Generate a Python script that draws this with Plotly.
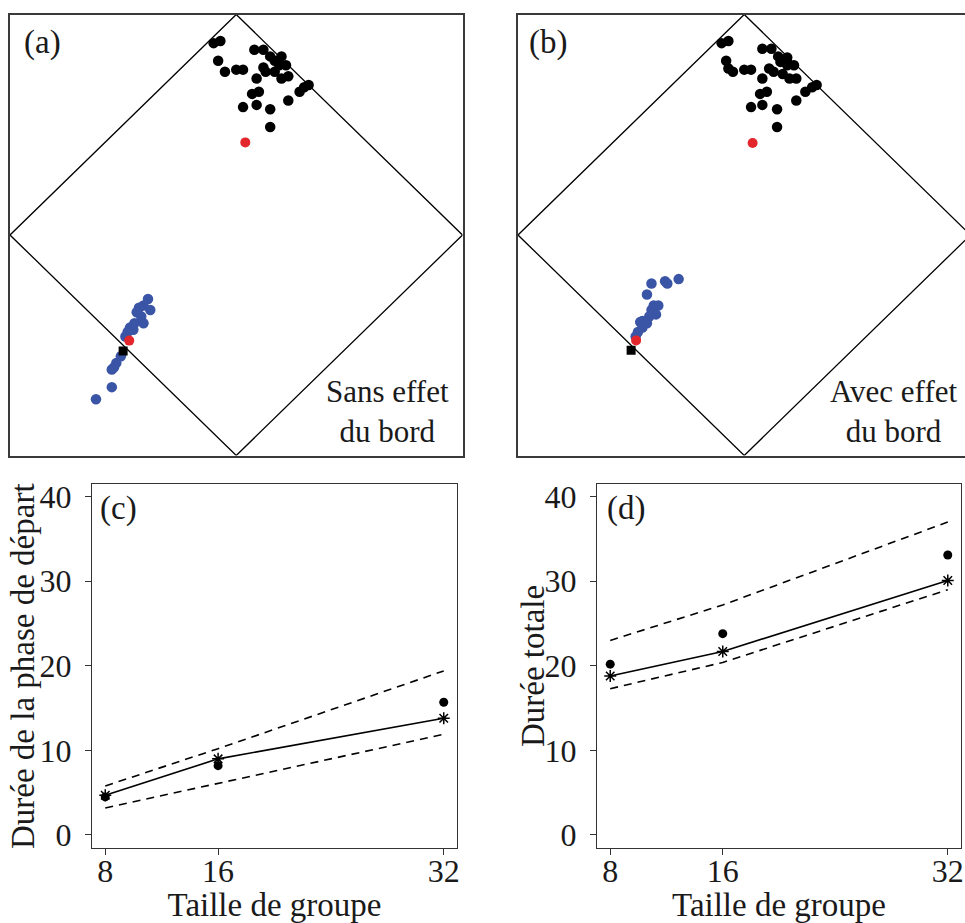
import plotly.graph_objects as go

# ---------------- data ----------------
# Diamond frame (simplex outline) used in panels (a) and (b)
diamond_x = [0, 1, 0, -1, 0]
diamond_y = [1, 0, -1, 0, 1]

# Panel (a): "Sans effet du bord"
a_black_x = [-0.10, -0.07, -0.08, -0.05, 0.00, 0.03, 0.08, 0.12, 0.09, 0.12, 0.13, 0.15, 0.17, 0.20,
             0.19, 0.22, 0.17, 0.20, 0.23, 0.07, 0.10, 0.03, 0.09, 0.15, 0.15, 0.23, 0.28, 0.30, 0.32, 0.18]
a_black_y = [0.87, 0.88, 0.79, 0.74, 0.75, 0.75, 0.84, 0.84, 0.71, 0.76, 0.74, 0.81, 0.79, 0.81,
             0.77, 0.77, 0.74, 0.71, 0.72, 0.64, 0.65, 0.58, 0.59, 0.57, 0.49, 0.61, 0.65, 0.67, 0.68, 0.79]
a_red_top = (0.04, 0.42)
a_blue_x = [-0.39, -0.41, -0.43, -0.38, -0.44, -0.42, -0.41, -0.45, -0.47, -0.455, -0.48, -0.49,
            -0.51, -0.53, -0.54, -0.55, -0.55, -0.62]
a_blue_y = [-0.29, -0.32, -0.33, -0.34, -0.35, -0.37, -0.40, -0.40, -0.42, -0.43, -0.44, -0.46,
            -0.55, -0.58, -0.60, -0.61, -0.69, -0.745]
a_red_bottom = (-0.473, -0.479)
a_square = (-0.50, -0.526)

# Panel (b): "Avec effet du bord"
b_black_x = [-0.10, -0.07, -0.08, -0.07, -0.05, 0.00, 0.03, 0.08, 0.12, 0.08, 0.11, 0.13, 0.15, 0.16,
             0.19, 0.19, 0.22, 0.17, 0.20, 0.23, 0.07, 0.10, 0.03, 0.08, 0.145, 0.145, 0.23, 0.27, 0.30, 0.32]
b_black_y = [0.87, 0.88, 0.79, 0.755, 0.74, 0.75, 0.75, 0.845, 0.845, 0.71, 0.755, 0.74, 0.81, 0.785,
             0.805, 0.77, 0.77, 0.73, 0.71, 0.71, 0.64, 0.65, 0.58, 0.59, 0.57, 0.49, 0.61, 0.65, 0.67, 0.68]
b_red_top = (0.037, 0.417)
b_blue_x = [-0.41, -0.35, -0.34, -0.29, -0.43, -0.40, -0.38, -0.41, -0.39, -0.42, -0.45, -0.46,
            -0.43, -0.45, -0.47, -0.48]
b_blue_y = [-0.22, -0.21, -0.22, -0.20, -0.27, -0.32, -0.32, -0.34, -0.36, -0.37, -0.39, -0.395,
            -0.40, -0.42, -0.44, -0.46]
b_red_bottom = (-0.478, -0.478)
b_square = (-0.50, -0.523)

# Panels (c) and (d)
group_sizes = [8, 16, 32]
x_tick_labels = ["8", "16", "32"]
y_tick_vals = [0, 10, 20, 30, 40]

c_observed = [4.5, 8.2, 15.7]
c_model = [4.7, 9.0, 13.8]
c_upper = [5.8, 10.2, 19.4]
c_lower = [3.2, 6.1, 11.9]

d_observed = [20.2, 23.8, 33.1]
d_model = [18.8, 21.7, 30.1]
d_upper = [23.0, 27.2, 37.0]
d_lower = [17.3, 20.4, 29.0]

# ---------------- style ----------------
FONT = "Liberation Serif"
BLUE = "#3a55a6"
RED = "#e3262b"
FRAME = "#333333"
TXT = "#1a1a1a"
W, H = 965, 923

fig = go.Figure()


def top_panel(xa, ya, bx, by, rtop, blx, bly, rbot, sq):
    fig.add_trace(go.Scatter(x=diamond_x, y=diamond_y, mode="lines",
                             line=dict(color="black", width=1.3), xaxis=xa, yaxis=ya,
                             showlegend=False, hoverinfo="skip"))
    fig.add_trace(go.Scatter(x=bx, y=by, mode="markers",
                             marker=dict(color="black", size=10.5), xaxis=xa, yaxis=ya, showlegend=False))
    fig.add_trace(go.Scatter(x=[rtop[0]], y=[rtop[1]], mode="markers",
                             marker=dict(color=RED, size=10), xaxis=xa, yaxis=ya, showlegend=False))
    fig.add_trace(go.Scatter(x=blx, y=bly, mode="markers",
                             marker=dict(color=BLUE, size=10.5), xaxis=xa, yaxis=ya, showlegend=False))
    fig.add_trace(go.Scatter(x=[sq[0]], y=[sq[1]], mode="markers",
                             marker=dict(color="black", size=9, symbol="square"),
                             xaxis=xa, yaxis=ya, showlegend=False))
    fig.add_trace(go.Scatter(x=[rbot[0]], y=[rbot[1]], mode="markers",
                             marker=dict(color=RED, size=10), xaxis=xa, yaxis=ya, showlegend=False))


top_panel("x", "y", a_black_x, a_black_y, a_red_top, a_blue_x, a_blue_y, a_red_bottom, a_square)
top_panel("x2", "y2", b_black_x, b_black_y, b_red_top, b_blue_x, b_blue_y, b_red_bottom, b_square)


def bottom_panel(xa, ya, obs, model, upper, lower):
    for band in (upper, lower):
        fig.add_trace(go.Scatter(x=group_sizes, y=band, mode="lines",
                                 line=dict(color="black", width=1.6, dash="8px,6px"),
                                 xaxis=xa, yaxis=ya, showlegend=False))
    fig.add_trace(go.Scatter(x=group_sizes, y=model, mode="lines+markers",
                             line=dict(color="black", width=1.6),
                             marker=dict(symbol="asterisk-open", size=10, color="black",
                                         line=dict(color="black", width=1.5)),
                             xaxis=xa, yaxis=ya, showlegend=False, cliponaxis=False))
    fig.add_trace(go.Scatter(x=group_sizes, y=obs, mode="markers",
                             marker=dict(color="black", size=9),
                             xaxis=xa, yaxis=ya, showlegend=False, cliponaxis=False))


bottom_panel("x3", "y3", c_observed, c_model, c_upper, c_lower)
bottom_panel("x4", "y4", d_observed, d_model, d_upper, d_lower)

# ---------------- axes ----------------
top_y_dom = [1 - 455.5 / H, 1 - 14.5 / H]
a_x_dom = [10 / W, 462.5 / W]
b_x_dom = [518 / W, 1.0]
b_x_max = -1 + 2 * (W - 518) / 452.5

blank = dict(showticklabels=False, ticks="", showgrid=False, zeroline=False,
             showline=True, linecolor="#3a3a3a", linewidth=1.6, fixedrange=True)

fig.update_layout(
    xaxis=dict(domain=a_x_dom, range=[-1, 1], anchor="y", mirror=True, **blank),
    yaxis=dict(domain=top_y_dom, range=[-1, 1], anchor="x", mirror=True, **blank),
    xaxis2=dict(domain=b_x_dom, range=[-1, b_x_max], anchor="y2", mirror=True, **blank),
    yaxis2=dict(domain=top_y_dom, range=[-1, 1], anchor="x2", mirror=False, **blank),
)

bot_y_dom = [1 - 848 / H, 1 - 484 / H]
c_x_dom = [92 / W, 457 / W]
d_x_dom = [597 / W, 961 / W]
tickfont = dict(family=FONT, size=32, color=TXT)
titlefont = dict(family=FONT, size=33, color=TXT)

common_x = dict(range=[7.06, 32.94], tickvals=group_sizes, ticktext=x_tick_labels,
                ticks="outside", ticklen=6, tickwidth=1.3, tickcolor=FRAME,
                showline=True, mirror=True, linecolor=FRAME, linewidth=1.4,
                showgrid=False, zeroline=False, tickfont=tickfont, automargin=False,
                ticklabelstandoff=-12)
common_y = dict(range=[-1.54, 41.5], tickvals=y_tick_vals,
                ticks="outside", ticklen=6, tickwidth=1.3, tickcolor=FRAME,
                showline=True, mirror=True, linecolor=FRAME, linewidth=1.4,
                showgrid=False, zeroline=False, tickfont=tickfont, automargin=False,
                ticklabelstandoff=7)

fig.update_layout(
    xaxis3=dict(domain=c_x_dom, anchor="y3",
                title=dict(text="Taille de groupe", font=titlefont, standoff=12), **common_x),
    yaxis3=dict(domain=bot_y_dom, anchor="x3", **common_y),
    xaxis4=dict(domain=d_x_dom, anchor="y4",
                title=dict(text="Taille de groupe", font=titlefont, standoff=12), **common_x),
    yaxis4=dict(domain=bot_y_dom, anchor="x4", **common_y),
)

# ---------------- annotations ----------------
ann_font = dict(family=FONT, size=33, color=TXT)
y_mid = 1 - 666 / H
annotations = [
    dict(text="(a)", x=-0.945, y=0.875, xref="x", yref="y", xanchor="left", yanchor="middle",
         showarrow=False, font=ann_font),
    dict(text="(b)", x=-0.96, y=0.875, xref="x2", yref="y2", xanchor="left", yanchor="middle",
         showarrow=False, font=ann_font),
    dict(text="Sans effet<br>du bord", x=0.668, y=-0.80, xref="x", yref="y",
         xanchor="center", yanchor="middle", align="center", showarrow=False,
         font=dict(family=FONT, size=31, color=TXT)),
    dict(text="Avec effet<br>du bord", x=0.659, y=-0.80, xref="x2", yref="y2",
         xanchor="center", yanchor="middle", align="center", showarrow=False,
         font=dict(family=FONT, size=31, color=TXT)),
    dict(text="(c)", x=7.5, y=38.6, xref="x3", yref="y3", xanchor="left", yanchor="middle",
         showarrow=False, font=ann_font),
    dict(text="(d)", x=7.6, y=38.6, xref="x4", yref="y4", xanchor="left", yanchor="middle",
         showarrow=False, font=ann_font),
    # y-axis titles
    dict(text="Durée de la phase de départ", x=23 / W, y=y_mid, xref="paper", yref="paper",
         xanchor="center", yanchor="middle", textangle=-90, showarrow=False, font=titlefont),
    dict(text="Durée totale", x=533 / W, y=y_mid, xref="paper", yref="paper",
         xanchor="center", yanchor="middle", textangle=-90, showarrow=False, font=titlefont),
]

fig.update_layout(
    template="none",
    width=W, height=H,
    margin=dict(l=0, r=0, t=0, b=0, pad=0),
    paper_bgcolor="white", plot_bgcolor="white",
    showlegend=False,
    annotations=annotations,
    font=dict(family=FONT, color=TXT),
)

fig.write_html("out.html")
